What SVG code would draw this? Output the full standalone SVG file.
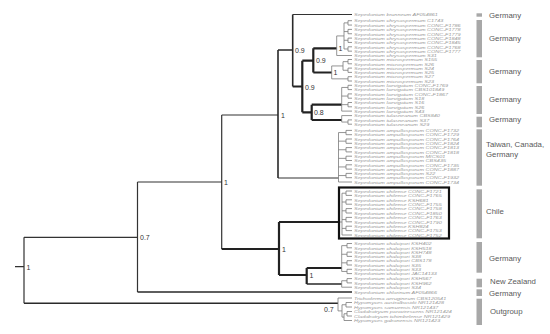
<svg xmlns="http://www.w3.org/2000/svg" width="550" height="334" viewBox="0 0 550 334">
<style>
.k{fill:none;stroke:#333;stroke-width:1.2}
.m{fill:none;stroke:#2a2a2a;stroke-width:1.6}
.t{fill:none;stroke:#222;stroke-width:2.2}
.g{fill:none;stroke:#7a7a7a;stroke-width:0.8}
.lf{font-family:"Liberation Sans",Arial,sans-serif;font-style:italic;font-size:3.75px;fill:#9a9a9a}
.sv{font-family:"Liberation Sans",Arial,sans-serif;font-size:7px;fill:#333}
.bar{fill:#a8a8a8}
.cl{font-family:"Liberation Sans",Arial,sans-serif;font-size:7.8px;fill:#5a5a5a}
</style>
<rect width="550" height="334" fill="#fff"/>
<g id="connectors">
<path class="k" d="M15,266.7H24M24,237.3V303.3M24,237.3H137.5M137.5,182V292M137.5,182H221.7M221.7,115V249M221.7,115H278M278,178H338.5M292.7,14.5H352"/>
<path class="m" d="M278,50V178M278,50H292.7M292.7,14.5V86.5M137.5,292H352M24,303.3H338M306.7,284H341.7"/>
<path class="t" d="M221.7,249H279M279,222V275M279,222H339M279,275H306.7M306.7,268V284M306.7,268H341.7M292.7,86.5H302.3M302.3,60.7V112.3M302.3,60.7H313.3M313.3,48.3V72.5M313.3,48.3H336.7M313.3,72.5H331.7M302.3,112.3H311.7M311.7,104.65V120M311.7,104.65H341.7M311.7,120H341.7"/>
<path class="g" d="M352,20.7H348V25.05H352M352,29.4H348V33.75H352M352,38.1H348V42.45H352M352,46.8H348V51.15H352M344,22.875V48.975M344,22.875H348M344,31.575H348M344,40.275H348M344,48.975H348M336.7,35.925V55.5M336.7,35.925H344M336.7,55.5H352"/>
<path class="g" d="M352,59.5H348V63.8H352M352,68.1H348V72.4H352M352,76.7H348V81H352M343,61.65V70.25M343,61.65H348M343,70.25H348M331.7,65.95V78.85M331.7,65.95H343M331.7,78.85H348"/>
<path class="g" d="M352,85.3H348V89.6H352M352,93.9H348V98.2H352M352,102.5H348V106.8H352M341.7,87.45V111.1M341.7,87.45H348M341.7,96.05H348M341.7,104.65H348M341.7,111.1H352"/>
<path class="g" d="M352,119.9H348V124.2H352M341.7,115.6V122.05M341.7,115.6H352M341.7,122.05H348"/>
<path class="g" d="M352,130.4H346V134.7H352M352,139H346V143.3H352M352,147.6H346V151.9H352M352,156.2H346V160.5H352M352,164.8H346V169.1H352M352,173.4H346V177.7H352M338.5,132.55V182M338.5,132.55H346M338.5,141.15H346M338.5,149.75H346M338.5,158.35H346M338.5,166.95H346M338.5,175.55H346M338.5,182H352"/>
<path class="g" d="M352,191H346V195.4H352M352,199.8H346V204.2H352M352,208.6H346V213H352M352,217.4H346V221.8H352M352,226.2H346V230.6H352M342,193.2V235M342,193.2H346M342,202H346M342,210.8H346M342,219.6H346M342,228.4H346M342,235H352M339,222H342"/>
<path class="g" d="M352,243.5H347V247.8H352M352,252.1H347V256.4H352M352,260.7H347V265H352M352,269.3H347V273.6H352M341.7,245.65V271.45M341.7,245.65H347M341.7,254.25H347M341.7,262.85H347M341.7,271.45H347"/>
<path class="g" d="M352,278.6H347V282.9H352M341.7,280.75V287.2M341.7,280.75H347M341.7,287.2H352"/>
<path class="g" d="M338,298V310.9M338,298H352M338,310.9H342M342,304.75V317.1M342,304.75H346M342,317.1H344M352,302.5H346V307H352M344,313.75V320.5M344,313.75H347M344,320.5H352M352,311.5H347V316H352"/>
<rect x="339" y="187.5" width="110" height="51" fill="none" stroke="#111" stroke-width="2.2"/>
</g>
<g id="support">
<text class="sv" x="26.5" y="269.5">1</text>
<text class="sv" x="140" y="239.8">0.7</text>
<text class="sv" x="224" y="184.5">1</text>
<text class="sv" x="281" y="117.5">1</text>
<text class="sv" x="295" y="52.5">0.9</text>
<text class="sv" x="305" y="89.5">0.9</text>
<text class="sv" x="316" y="63">0.9</text>
<text class="sv" x="338.5" y="51">1</text>
<text class="sv" x="333.5" y="75">1</text>
<text class="sv" x="314" y="114.5">0.8</text>
<text class="sv" x="282" y="251.5">1</text>
<text class="sv" x="309.5" y="277.5">1</text>
<text class="sv" x="324" y="311.5">0.7</text>
</g>
<g id="brunneum" class="lf" transform="translate(354,0) scale(1.47,1)"><text x="0" y="16.3">Sepedonium brunneum AF054861</text></g>
<g id="chrysospermum" class="lf" transform="translate(354,0) scale(1.47,1)">
<text x="0" y="22.5">Sepedonium chrysospermum C1743</text>
<text x="0" y="26.85">Sepedonium chrysospermum CONC-F1786</text>
<text x="0" y="31.2">Sepedonium chrysospermum CONC-F1778</text>
<text x="0" y="35.55">Sepedonium chrysospermum CONC-F1779</text>
<text x="0" y="39.9">Sepedonium chrysospermum CONC-F1848</text>
<text x="0" y="44.25">Sepedonium chrysospermum CONC-F1845</text>
<text x="0" y="48.6">Sepedonium chrysospermum CONC-F1768</text>
<text x="0" y="52.95">Sepedonium chrysospermum CONC-F1777</text>
<text x="0" y="57.3">Sepedonium chrysospermum S31</text>
</g>
<g id="microspermum" class="lf" transform="translate(354,0) scale(1.47,1)">
<text x="0" y="61.3">Sepedonium microspermum S155</text>
<text x="0" y="65.6">Sepedonium microspermum S26</text>
<text x="0" y="69.9">Sepedonium microspermum S24</text>
<text x="0" y="74.2">Sepedonium microspermum S25</text>
<text x="0" y="78.5">Sepedonium microspermum S27</text>
<text x="0" y="82.8">Sepedonium microspermum S23</text>
</g>
<g id="laevigatum" class="lf" transform="translate(354,0) scale(1.47,1)">
<text x="0" y="87.1">Sepedonium laevigatum CONC-F1769</text>
<text x="0" y="91.4">Sepedonium laevigatum CBS101849</text>
<text x="0" y="95.7">Sepedonium laevigatum CONC-F1867</text>
<text x="0" y="100">Sepedonium laevigatum S18</text>
<text x="0" y="104.3">Sepedonium laevigatum S16</text>
<text x="0" y="108.6">Sepedonium laevigatum S26</text>
<text x="0" y="112.9">Sepedonium laevigatum S43</text>
</g>
<g id="tulasneanum" class="lf" transform="translate(354,0) scale(1.47,1)">
<text x="0" y="117.4">Sepedonium tulasneanum CBS840</text>
<text x="0" y="121.7">Sepedonium tulasneanum S37</text>
<text x="0" y="126">Sepedonium tulasneanum S29</text>
</g>
<g id="ampullosporum" class="lf" transform="translate(354,0) scale(1.47,1)">
<text x="0" y="132.2">Sepedonium ampullosporum CONC-F1732</text>
<text x="0" y="136.5">Sepedonium ampullosporum CONC-F1729</text>
<text x="0" y="140.8">Sepedonium ampullosporum CONC-F1764</text>
<text x="0" y="145.1">Sepedonium ampullosporum CONC-F1824</text>
<text x="0" y="149.4">Sepedonium ampullosporum CONC-F1813</text>
<text x="0" y="153.7">Sepedonium ampullosporum CONC-F1818</text>
<text x="0" y="158">Sepedonium ampullosporum MICS01</text>
<text x="0" y="162.3">Sepedonium ampullosporum CBS435</text>
<text x="0" y="166.6">Sepedonium ampullosporum CONC-F1735</text>
<text x="0" y="170.9">Sepedonium ampullosporum CONC-F1887</text>
<text x="0" y="175.2">Sepedonium ampullosporum S22</text>
<text x="0" y="179.5">Sepedonium ampullosporum CONC-F1932</text>
<text x="0" y="183.8">Sepedonium ampullosporum CONC-F1734</text>
</g>
<g id="chile" class="lf" transform="translate(354,0) scale(1.47,1)">
<text x="0" y="192.8">Sepedonium chilense CONC-F1721</text>
<text x="0" y="197.2">Sepedonium chilense CONC-F1765</text>
<text x="0" y="201.6">Sepedonium chilense KSH681</text>
<text x="0" y="206">Sepedonium chilense CONC-F1755</text>
<text x="0" y="210.4">Sepedonium chilense CONC-F1758</text>
<text x="0" y="214.8">Sepedonium chilense CONC-F1850</text>
<text x="0" y="219.2">Sepedonium chilense CONC-F1763</text>
<text x="0" y="223.6">Sepedonium chilense CONC-F1790</text>
<text x="0" y="228">Sepedonium chilense KSH824</text>
<text x="0" y="232.4">Sepedonium chilense CONC-F1753</text>
<text x="0" y="236.8">Sepedonium chilense CONC-F1752</text>
</g>
<g id="chalcipori" class="lf" transform="translate(354,0) scale(1.47,1)">
<text x="0" y="245.3">Sepedonium chalcipori KSH402</text>
<text x="0" y="249.6">Sepedonium chalcipori KSH518</text>
<text x="0" y="253.9">Sepedonium chalcipori KSH748</text>
<text x="0" y="258.2">Sepedonium chalcipori S38</text>
<text x="0" y="262.5">Sepedonium chalcipori CBS178</text>
<text x="0" y="266.8">Sepedonium chalcipori S35</text>
<text x="0" y="271.1">Sepedonium chalcipori S33</text>
<text x="0" y="275.4">Sepedonium chalcipori JAC14133</text>
</g>
<g id="newzealand" class="lf" transform="translate(354,0) scale(1.47,1)">
<text x="0" y="280.4">Sepedonium chalcipori KSH567</text>
<text x="0" y="284.7">Sepedonium chalcipori KSH962</text>
<text x="0" y="289">Sepedonium chalcipori S34</text>
</g>
<g id="chlorinum" class="lf" transform="translate(354,0) scale(1.47,1)"><text x="0" y="293.8">Sepedonium chlorinum AF054866</text></g>
<g id="outgroup" class="lf" transform="translate(354,0) scale(1.47,1)">
<text x="0" y="299.8">Trichoderma aerugineum CBS120541</text>
<text x="0" y="304.3">Hypomyces australbasidii NR121428</text>
<text x="0" y="308.8">Hypomyces samuensis NR121437</text>
<text x="0" y="313.3">Cladobotryum paravirescens NR121424</text>
<text x="0" y="317.8">Cladobotryum tchimbelense NR121429</text>
<text x="0" y="322.3">Hypomyces gabonensis NR121423</text>
</g>
<g id="origins">
<rect class="bar" x="476.5" y="13.3" width="5.5" height="3.4"/>
<rect class="bar" x="476.5" y="20" width="5.5" height="37.3"/>
<rect class="bar" x="476.5" y="60" width="5.5" height="23.3"/>
<rect class="bar" x="476.5" y="86" width="5.5" height="28"/>
<rect class="bar" x="476.5" y="116.7" width="5.5" height="10.6"/>
<rect class="bar" x="476.5" y="129.3" width="5.5" height="56.4"/>
<rect class="bar" x="476.5" y="189.3" width="5.5" height="49"/>
<rect class="bar" x="476.5" y="242" width="5.5" height="30.7"/>
<rect class="bar" x="476.5" y="278.7" width="5.5" height="8.6"/>
<rect class="bar" x="476.5" y="289.3" width="5.5" height="6.7"/>
<rect class="bar" x="476.5" y="298.7" width="5.5" height="26.3"/>
<text class="cl" x="489" y="17.8">Germany</text>
<text class="cl" x="489" y="41.1">Germany</text>
<text class="cl" x="489" y="73.5">Germany</text>
<text class="cl" x="489" y="101.5">Germany</text>
<text class="cl" x="489" y="122.1">Germany</text>
<text class="cl" x="486" y="146.8">Taiwan, Canada,</text>
<text class="cl" x="486" y="156.8">Germany</text>
<text class="cl" x="486" y="213.5">Chile</text>
<text class="cl" x="489" y="260.5">Germany</text>
<text class="cl" x="490" y="283.8">New Zealand</text>
<text class="cl" x="489" y="296.1">Germany</text>
<text class="cl" x="490" y="314.1">Outgroup</text>
</g>
</svg>
